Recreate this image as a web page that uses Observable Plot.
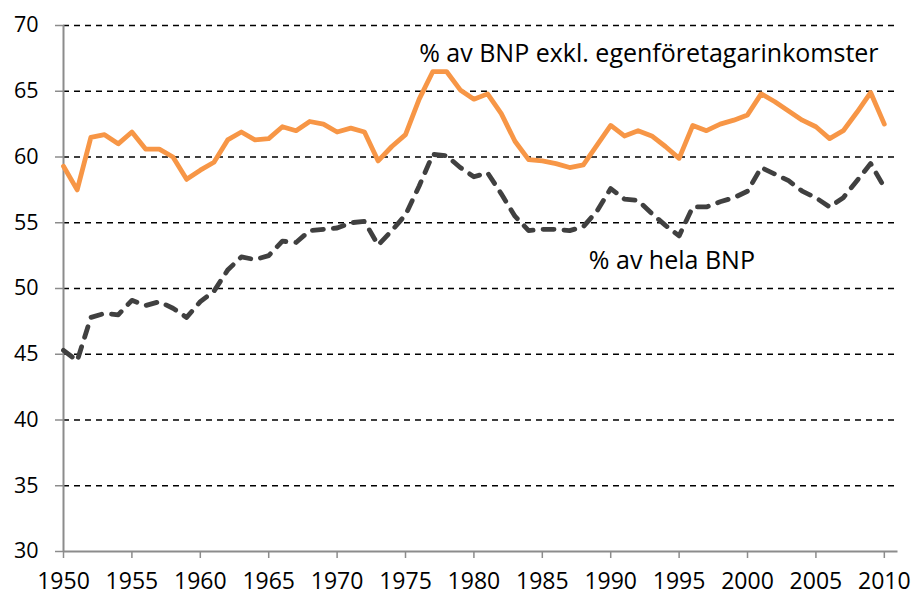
<!DOCTYPE html>
<html>
<head>
<meta charset="utf-8">
<script src="https://cdn.jsdelivr.net/npm/d3@7"></script>
<script src="https://cdn.jsdelivr.net/npm/@observablehq/plot@0.6"></script>
<style>
  html, body { margin: 0; padding: 0; background: #fff; }
  #chart svg { display: block; }
</style>
</head>
<body>
<div id="chart"></div>
<script>
const years = d3.range(1950, 2011);
const exklEgen = [59.3, 57.5, 61.5, 61.7, 61.0, 61.9, 60.6, 60.6, 60.0, 58.3,
  59.0, 59.6, 61.3, 61.9, 61.3, 61.4, 62.3, 62.0, 62.7, 62.5,
  61.9, 62.2, 61.9, 59.7, 60.8, 61.7, 64.4, 66.5, 66.5, 65.1,
  64.4, 64.8, 63.3, 61.2, 59.8, 59.7, 59.5, 59.2, 59.4, 60.9,
  62.4, 61.6, 62.0, 61.6, 60.8, 59.9, 62.4, 62.0, 62.5, 62.8,
  63.2, 64.8, 64.2, 63.5, 62.8, 62.3, 61.4, 62.0, 63.4, 64.9,
  62.5];
const helaBNP = [45.3, 44.5, 47.8, 48.1, 48.0, 49.1, 48.7, 49.0, 48.5, 47.8,
  49.0, 49.8, 51.4, 52.4, 52.2, 52.5, 53.6, 53.5, 54.4, 54.5,
  54.6, 55.0, 55.1, 53.3, 54.4, 55.6, 57.8, 60.2, 60.1, 59.2,
  58.5, 58.8, 57.2, 55.5, 54.4, 54.5, 54.5, 54.4, 54.7, 55.9,
  57.6, 56.8, 56.7, 55.7, 54.8, 54.0, 56.2, 56.2, 56.6, 56.9,
  57.4, 59.2, 58.7, 58.2, 57.4, 56.9, 56.2, 56.9, 58.2, 59.5,
  57.7];
const yTicks = [30, 35, 40, 45, 50, 55, 60, 65, 70];
const xTicks = [1950, 1955, 1960, 1965, 1970, 1975, 1980, 1985, 1990, 1995, 2000, 2005, 2010];
const seriesLabels = ["% av BNP exkl. egenföretagarinkomster", "% av hela BNP"];
const labelYears = [1976, 1988.4];
const labelValues = [67.8, 52.1];

const orangeData = years.map((y, i) => ({year: y, value: exklEgen[i]}));
const blackData = years.map((y, i) => ({year: y, value: helaBNP[i]}));
const labelData = seriesLabels.map((t, i) => ({text: t, year: labelYears[i], value: labelValues[i]}));

const chart = Plot.plot({
  width: 913,
  height: 595,
  marginLeft: 63,
  marginRight: 15.5,
  marginTop: 25,
  marginBottom: 44,
  x: {domain: [1950, 2011]},
  y: {domain: [30, 70]},
  style: {fontFamily: "Open Sans", background: "#fff", color: "#000"},
  marks: [
    Plot.ruleY(yTicks.filter(d => d > 30), {stroke: "#000", strokeWidth: 1.3, strokeDasharray: "6,5"}),
    Plot.ruleY([30], {stroke: "#8c8c8c", strokeWidth: 2}),
    Plot.ruleX([1950], {stroke: "#8c8c8c", strokeWidth: 2}),
    Plot.axisY({ticks: yTicks, tickSize: 8, tickPadding: 17, stroke: "#8c8c8c", strokeWidth: 1.5, fill: "#000", fontSize: 21.5, label: null, tickFormat: d => String(d)}),
    Plot.axisX({ticks: xTicks, tickSize: 7, tickPadding: 13.7, stroke: "#8c8c8c", strokeWidth: 1.5, fill: "#000", fontSize: 23, label: null, tickFormat: d => String(d)}),
    Plot.line(blackData, {x: "year", y: "value", stroke: "#404040", strokeWidth: 4.8, strokeDasharray: "11,10", strokeLinecap: "round", strokeLinejoin: "round"}),
    Plot.line(orangeData, {x: "year", y: "value", stroke: "#F79646", strokeWidth: 4.8, strokeLinejoin: "round"}),
    Plot.text(labelData, {x: "year", y: "value", text: "text", textAnchor: "start", fontSize: 25, fill: "#000"})
  ]
});
document.getElementById("chart").appendChild(chart);
</script>
</body>
</html>
